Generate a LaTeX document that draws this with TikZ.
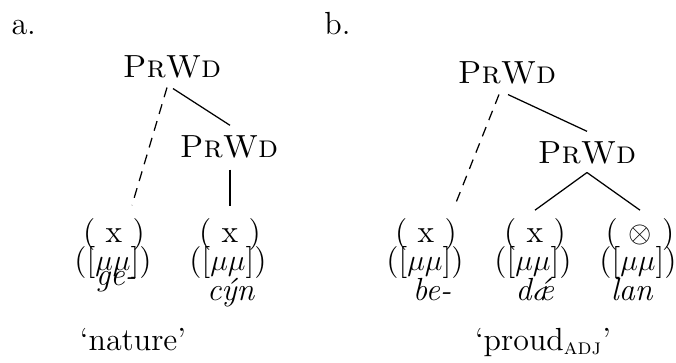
\documentclass[tikz,border=0pt]{standalone}
\usetikzlibrary{calc}
\begin{document}
\begin{tikzpicture}[x=0.4pt,y=-0.4pt,
  every node/.style={font=\fontsize{12.8}{15.4}\selectfont},
  lbl/.style={anchor=base},
  edge/.style={line width=0.5pt},
  dedge/.style={line width=0.5pt,dash pattern=on 4pt off 3pt}]
\useasboundingbox (0,0) rectangle (676,362);
% labels
\node[anchor=base west,inner sep=0] (la) at (11,34) {a.};
\node[anchor=base west,inner sep=0] (lb) at (324,34) {b.};
% tree a
\node[lbl] (pa1) at (172,77) {\textsc{PrWd}};
\node[lbl] (pa2) at (229,157) {\textsc{PrWd}};
\node[lbl] (xa1) at (114,242) {( x )};
\node[lbl] (ma1) at (113,270) {([$\mu\mu$])};
\node[lbl] (wa1) at (116,285) {\textit{ge-}};
\node[lbl] (xa2) at (230,242) {( x )};
\node[lbl] (ma2) at (228,270) {([$\mu\mu$])};
\node[lbl] (wa2) at (231,300) {\textit{c\'yn}};
\node[lbl] (ga) at (133,350) {`nature'};
\draw[dedge] ($(pa1.south)+(-5,1)$) -- ($(xa1.north)+(18,-4)$);
\draw[edge] ($(pa1.south)+(1,2)$) -- ($(pa2.north)+(1,-1)$);
\draw[edge] ($(pa2.south)+(1,3)$) -- ($(xa2.north)+(0,-3)$);
% tree b
\node[lbl] (pb1) at (507,83) {\textsc{PrWd}};
\node[lbl] (pb2) at (587,163) {\textsc{PrWd}};
\node[lbl] (xb1) at (426,242) {( x )};
\node[lbl] (mb1) at (425,270) {([$\mu\mu$])};
\node[lbl] (wb1) at (432,300) {\textit{be-}};
\node[lbl] (xb2) at (535,242) {( x )};
\node[lbl] (mb2) at (533,270) {([$\mu\mu$])};
\node[lbl] (wb2) at (535,300) {\textit{d\'{\ae}}};
\node[lbl] (xb3) at (640,242) {( $\otimes$ )};
\node[lbl] (mb3) at (638,270) {([$\mu\mu$])};
\node[lbl] (wb3) at (632,300) {\textit{lan}};
\node[lbl] (gb) at (543,350) {`proud\textsubscript{\textsc{adj}}'};
\draw[dedge] ($(pb1.south)+(-8,2)$) -- ($(xb1.north)+(29,-4)$);
\draw[edge] ($(pb1.south)+(1,2)$) -- ($(pb2.north)+(0,-1)$);
\draw[edge] (pb2.south) -- ($(xb2.north)+(0,1)$);
\draw[edge] (pb2.south) -- ($(xb3.north)+(0,1)$);
\end{tikzpicture}
\end{document}
